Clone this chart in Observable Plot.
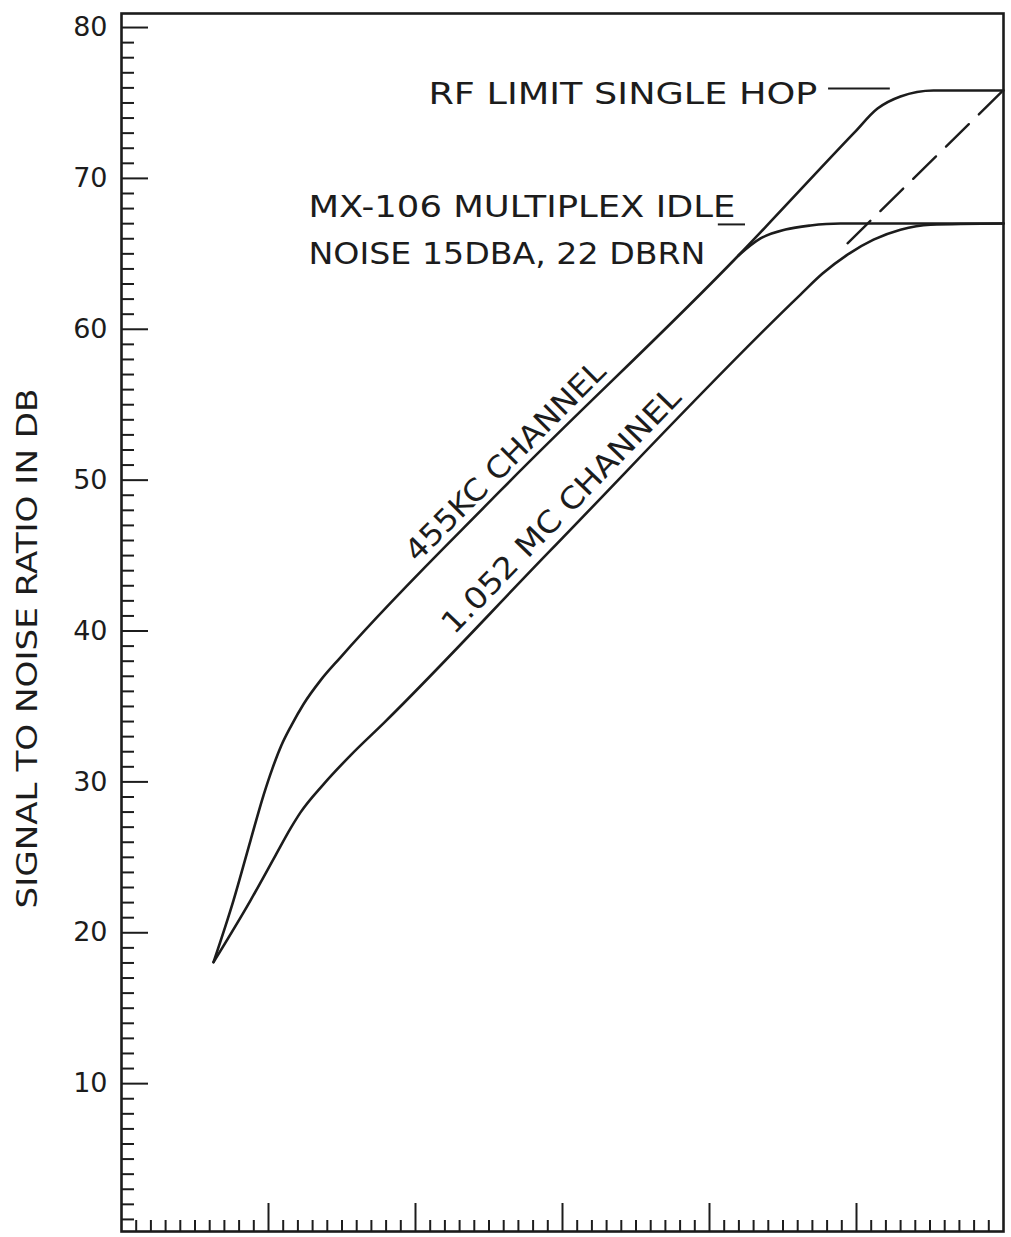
<!DOCTYPE html>
<html>
<head>
<meta charset="utf-8">
<script src="https://cdn.jsdelivr.net/npm/d3@7"></script>
<script src="https://cdn.jsdelivr.net/npm/@observablehq/plot@0.6"></script>
<style>
  html, body { margin: 0; padding: 0; background: #fff; }
  #chart svg { display: block; }
</style>
</head>
<body>
<div id="chart"></div>
<script>
// ---- Data ----
// 455 KC channel
const ch455X = [6.26, 7.62, 8.78, 9.66, 10.27, 10.88, 11.56, 12.38, 13.54, 14.90, 25.78, 41.97, 49.80, 51.43, 52.99, 55.24, 60.0];
const ch455Y = [18.05, 22.15, 26.13, 29.11, 30.90, 32.43, 33.75, 35.15, 36.73, 38.26, 49.30, 64.89, 72.98, 74.63, 75.43, 75.83, 75.83];
// MX-106 multiplex idle-noise limit (branches off the 455 KC line)
const idleX = [41.97, 43.47, 45.17, 46.87, 48.91, 60.0];
const idleY = [64.89, 66.02, 66.61, 66.88, 67.01, 67.01];
// 1.052 MC channel
const ch1052X = [6.26, 8.78, 10.48, 11.50, 12.18, 13.74, 15.58, 17.82, 29.18, 46.19, 47.69, 49.39, 51.16, 52.99, 55.03, 60.0];
const ch1052Y = [18.05, 22.15, 25.13, 26.92, 27.98, 29.84, 31.76, 33.88, 45.34, 62.30, 63.69, 64.95, 65.94, 66.60, 66.93, 67.01];
// dashed extension of the 1.052 MC channel up to the RF limit
const extX = [49.39, 60.0];
const extY = [65.70, 75.85];

// axis ticks
const yMajor = [10, 20, 30, 40, 50, 60, 70, 80];
const yMinor = d3.range(1, 81).filter(d => d % 10 !== 0);
const xMajor = [10, 20, 30, 40, 50];
const xMinor = d3.range(1, 60).filter(d => d % 10 !== 0);

// annotations
const noteText = ["RF LIMIT SINGLE HOP", "MX-106 MULTIPLEX IDLE", "NOISE 15DBA, 22 DBRN"];
const noteX = [20.88, 12.72, 12.72];
const noteY = [75.56, 68.07, 64.96];
const leaderX1 = [48.1, 40.6];
const leaderX2 = [52.3, 42.45];
const leaderY = [75.96, 66.95];
const curveLabel = ["455KC CHANNEL", "1.052 MC CHANNEL"];
const curveLabelX = [26.12, 29.93];
const curveLabelY = [51.24, 47.99];
const curveLabelAngle = [-45, -46];
const yTitle = "SIGNAL TO NOISE RATIO IN DB";

// ---- Build ----
const W = 1011, H = 1237;
const mL = 121, mR = 8, mT = 13, mB = 6;
const plotW = W - mL - mR, plotH = H - mT - mB;
const ink = "#1c1c1c";
const font = "'DejaVu Sans', sans-serif";

const toRows = (xs, ys) => xs.map((x, i) => ({x, y: ys[i]}));

const chart = Plot.plot({
  width: W,
  height: H,
  marginLeft: mL,
  marginRight: mR,
  marginTop: mT,
  marginBottom: mB,
  style: {fontFamily: font, color: ink, background: "#fff"},
  x: {domain: [0, 60], axis: null},
  y: {domain: [0.2, 80.93], axis: null},
  marks: [
    // inward ticks on the left edge
    Plot.tickY(yMinor, {y: d => d, insetRight: plotW - 13, stroke: ink, strokeWidth: 2}),
    Plot.tickY(yMajor, {y: d => d, insetRight: plotW - 27, stroke: ink, strokeWidth: 2}),
    // inward ticks on the bottom edge
    Plot.tickX(xMinor, {x: d => d, insetTop: plotH - 11, stroke: ink, strokeWidth: 2}),
    Plot.tickX(xMajor, {x: d => d, insetTop: plotH - 28, stroke: ink, strokeWidth: 2}),
    Plot.axisY(yMajor, {anchor: "left", tickSize: 0, tickPadding: 14, fontSize: 27, label: null, fill: ink, fontFamily: font}),
    Plot.frame({stroke: ink, strokeWidth: 2.6}),
    // curves
    Plot.line(toRows(ch455X, ch455Y), {x: "x", y: "y", curve: "monotone-x", stroke: ink, strokeWidth: 2.6}),
    Plot.line(toRows(idleX, idleY), {x: "x", y: "y", curve: "monotone-x", stroke: ink, strokeWidth: 2.6}),
    Plot.line(toRows(ch1052X, ch1052Y), {x: "x", y: "y", curve: "monotone-x", stroke: ink, strokeWidth: 2.6}),
    Plot.line(toRows(extX, extY), {x: "x", y: "y", stroke: ink, strokeWidth: 2.4, strokeDasharray: "32,14"}),
    // leader lines
    Plot.ruleY(leaderY, {y: d => d, x1: (d, i) => leaderX1[i], x2: (d, i) => leaderX2[i], stroke: ink, strokeWidth: 2}),
    // annotations
    ...noteText.map((t, i) => Plot.text([t], {
      x: noteX[i], y: noteY[i], text: d => d, textAnchor: "start", lineAnchor: "middle",
      fontSize: 30, fill: ink
    })),
    ...curveLabel.map((t, i) => Plot.text([t], {
      x: curveLabelX[i], y: curveLabelY[i], text: d => d, textAnchor: "middle", lineAnchor: "middle",
      rotate: curveLabelAngle[i], fontSize: 30, fill: ink
    })),
    Plot.text([yTitle], {
      frameAnchor: "left", dx: -93, dy: 26, text: d => d, rotate: -90, textAnchor: "middle", lineAnchor: "middle",
      fontSize: 28, fill: ink
    })
  ]
});

// fit lettering widths to the wide hand-lettered originals
const lengths = new Map([
  [noteText[0], 389], [noteText[1], 427], [noteText[2], 397],
  [curveLabel[0], 269], [curveLabel[1], 329], [yTitle, 520]
]);
d3.select(chart).selectAll("text").each(function() {
  const t = this.textContent;
  if (lengths.has(t)) {
    this.setAttribute("textLength", lengths.get(t));
    this.setAttribute("lengthAdjust", "spacingAndGlyphs");
  }
});

document.getElementById("chart").appendChild(chart);
</script>
</body>
</html>
